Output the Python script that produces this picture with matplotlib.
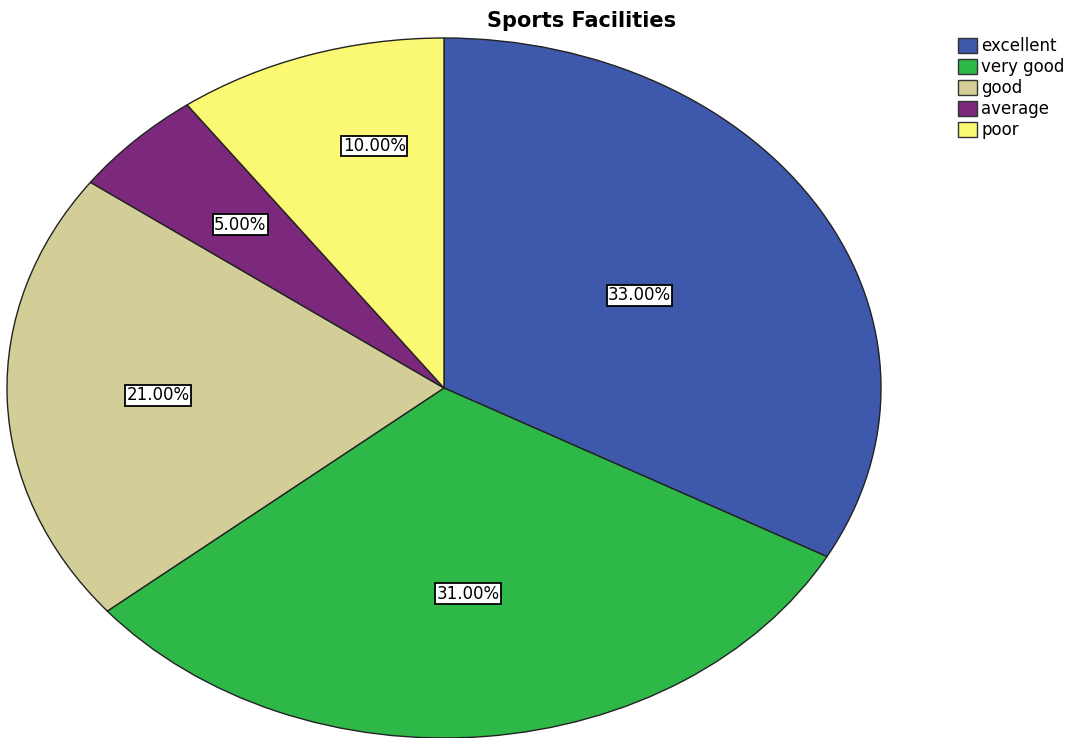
import matplotlib
matplotlib.use("Agg")
import numpy as np
import matplotlib.pyplot as plt

categories = ["excellent", "very good", "good", "average", "poor"]
values = [33, 31, 21, 5, 10]
colors = ["#3E58AC", "#2EB848", "#D3CE97", "#7B287D", "#FBF873"]
label_dist = [0.52, 0.59, 0.655, 0.66, 0.71]  # per-wedge label distance (styling)
label_angle_shift = [0, 0, 0, 0, -5]          # degrees (styling)

fig = plt.figure(figsize=(10.78, 7.38), dpi=100)
ax = fig.add_axes([0, 0, 1, 1])
wedges, texts, autotexts = ax.pie(
    values, colors=colors, startangle=90, counterclock=False,
    autopct="%.2f%%", pctdistance=0.6,
    wedgeprops=dict(edgecolor="#222222", linewidth=1.0),
    textprops=dict(fontsize=12, family="DejaVu Sans"),
)
for w, t, d, s in zip(wedges, autotexts, label_dist, label_angle_shift):
    ang = np.deg2rad((w.theta1 + w.theta2) / 2 + s)
    t.set_position((d * np.cos(ang), d * np.sin(ang)))
    t.set_bbox(dict(facecolor="white", edgecolor="black", linewidth=1.3, pad=1.0))
ax.set_aspect("auto")
ax.set_xlim(-444 / 437, (1078 - 444) / 437)
ax.set_ylim(-(738 - 388) / 350, 388 / 350)
ax.axis("off")

fig.text(582 / 1078, 1 - 21 / 738, "Sports Facilities", ha="center", va="center",
         fontsize=15, fontweight="bold", family="DejaVu Sans")

leg = fig.legend(wedges, categories, loc="upper left", bbox_to_anchor=(958 / 1078, 1 - 37 / 738),
                 frameon=False, handlelength=1.15, handleheight=1.0,
                 handletextpad=0.25, labelspacing=0.18, borderpad=0, borderaxespad=0,
                 prop=dict(family="DejaVu Sans", size=12))
for h in leg.legend_handles:
    h.set_edgecolor("#333333")
    h.set_linewidth(1.0)

fig.savefig("out.png", dpi=100)
